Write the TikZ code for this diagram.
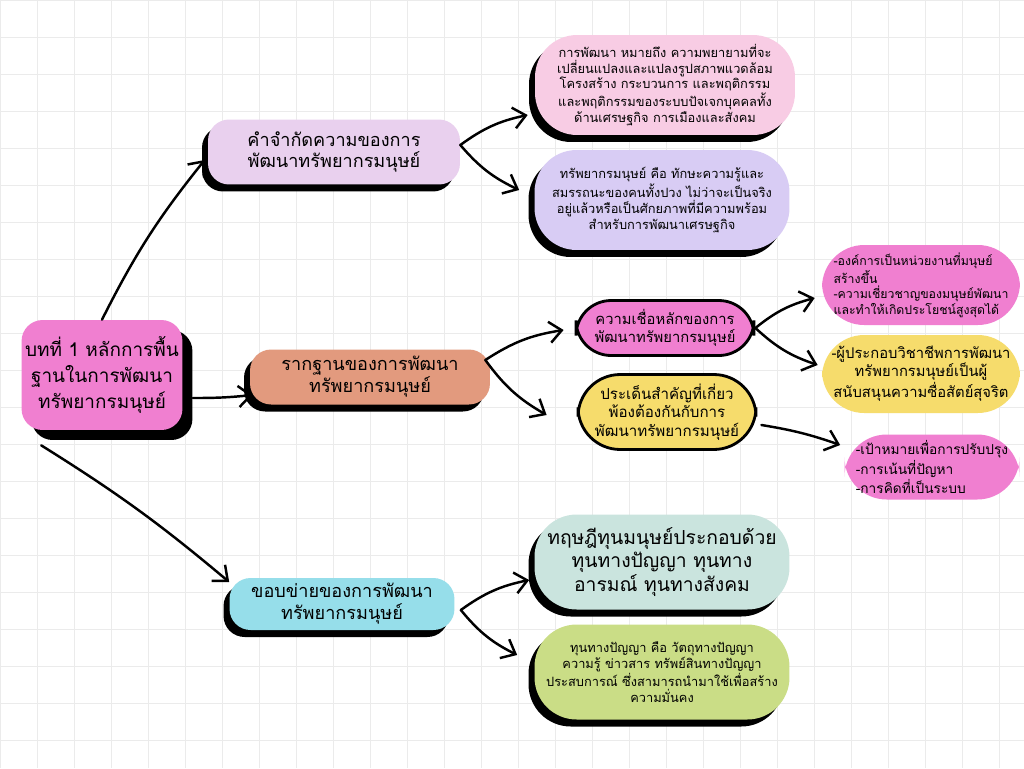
\documentclass[tikz,border=0pt]{standalone}
\usepackage{fontspec}
\newfontfamily\thaifont[Script=Thai]{Loma}
\usetikzlibrary{arrows.meta,shadows}
\definecolor{hotpink}{HTML}{F07FD0}
\definecolor{lilac}{HTML}{E9D0EE}
\definecolor{salmon}{HTML}{E29A7E}
\definecolor{skyblue}{HTML}{96DEEA}
\definecolor{palepink}{HTML}{F8CCE4}
\definecolor{lavender}{HTML}{D8CCF4}
\definecolor{mustard}{HTML}{F6DC6C}
\definecolor{mint}{HTML}{CAE4DE}
\definecolor{lime}{HTML}{CADD86}
\tikzset{
  blob/.style={rounded corners=12pt, inner sep=2pt, align=center, text=black},
  shade/.style={drop shadow={shadow xshift=-0.12cm, shadow yshift=-0.14cm, fill=black, opacity=1}},
  ringed/.style={draw=black, line width=1.6pt},
  big/.style={font=\thaifont\fontsize{10.8}{14.8}\selectfont},
  mid/.style={font=\thaifont\fontsize{10.3}{12.5}\selectfont},
  small/.style={font=\thaifont\fontsize{7.3}{9}\selectfont},
  link/.style={-{Straight Barb[length=7pt,width=12pt,line width=1.4pt]}, line width=1.4pt, line cap=round},
  gridline/.style={draw=black!8, line width=0.4pt}
}
\begin{document}
\begin{tikzpicture}[x=0.02cm, y=-0.02cm]
\useasboundingbox (0,0) rectangle (1024,768);
\fill[white] (0,0) rectangle (1024,768);
\foreach \gx in {0,37,...,1024} \draw[gridline] (\gx,0) -- (\gx,768);
\foreach \gy in {0,37,...,768} \draw[gridline] (0,\gy) -- (1024,\gy);

% main topic
\node[blob, big, fill=hotpink, minimum width=3.1cm, minimum height=2.2cm,
  drop shadow={shadow xshift=0.2cm, shadow yshift=-0.2cm, fill=black, opacity=1}]
  (main) at (102,375) {บทที่ 1 หลักการพื้น\\ฐานในการพัฒนา\\ทรัพยากรมนุษย์};

% branches
\node[blob, mid, fill=lilac, shade, minimum width=5.04cm, minimum height=1.3cm]
  (defn) at (334,152) {คำจำกัดความของการ\\พัฒนาทรัพยากรมนุษย์};
\node[blob, mid, fill=salmon, shade, minimum width=4.8cm, minimum height=1.1cm]
  (found) at (370,377) {รากฐานของการพัฒนา\\ทรัพยากรมนุษย์};
\node[blob, mid, fill=skyblue, shade, minimum width=4.5cm, minimum height=1.04cm]
  (scope) at (342,604) {ขอบข่ายของการพัฒนา\\ทรัพยากรมนุษย์};

% definitions
\node[blob, small, fill=palepink, shade, rounded corners=24pt, minimum width=5.2cm, minimum height=2cm]
  (hrd) at (665,85) {การพัฒนา หมายถึง ความพยายามที่จะ\\เปลี่ยนแปลงและแปลงรูปสภาพแวดล้อม\\โครงสร้าง กระบวนการ และพฤติกรรม\\และพฤติกรรมของระบบปัจเจกบุคคลทั้ง\\ด้านเศรษฐกิจ การเมืองและสังคม};
\node[blob, small, fill=lavender, shade, rounded corners=24pt, minimum width=5.1cm, minimum height=2cm]
  (hr) at (662,200) {ทรัพยากรมนุษย์ คือ ทักษะความรู้และ\\สมรรถนะของคนทั้งปวง ไม่ว่าจะเป็นจริง\\อยู่แล้วหรือเป็นศักยภาพที่มีความพร้อม\\สำหรับการพัฒนาเศรษฐกิจ};

% foundations
\node[blob, font=\thaifont\fontsize{8.4}{10.3}\selectfont, fill=hotpink, ringed, rounded corners=20pt, minimum width=3.56cm, minimum height=1.1cm]
  (belief) at (665,328) {ความเชื่อหลักของการ\\พัฒนาทรัพยากรมนุษย์};
\node[blob, font=\thaifont\fontsize{8.6}{10.5}\selectfont, fill=mustard, ringed, rounded corners=24pt, minimum width=3.56cm, minimum height=1.5cm]
  (issue) at (667,412) {ประเด็นสำคัญที่เกี่ยว\\พ้องต้องกันกับการ\\พัฒนาทรัพยากรมนุษย์};
\node[blob, font=\thaifont\fontsize{7}{8.8}\selectfont, align=left, fill=hotpink, rounded corners=24pt, minimum width=3.96cm, minimum height=1.6cm]
  (org) at (921,285) {-องค์การเป็นหน่วยงานที่มนุษย์\\สร้างขึ้น\\-ความเชี่ยวชาญของมนุษย์พัฒนา\\และทำให้เกิดประโยชน์สูงสุดได้};
\node[blob, font=\thaifont\fontsize{8.4}{10.3}\selectfont, fill=mustard, rounded corners=24pt, minimum width=3.96cm, minimum height=1.56cm]
  (ethic) at (921,374) {-ผู้ประกอบวิชาชีพการพัฒนา\\ทรัพยากรมนุษย์เป็นผู้\\สนับสนุนความซื่อสัตย์สุจริต};
\node[blob, font=\thaifont\fontsize{7.8}{9.6}\selectfont, align=left, fill=hotpink, rounded corners=24pt, minimum width=3.5cm, minimum height=1.3cm]
  (goal) at (932,467) {-เป้าหมายเพื่อการปรับปรุง\\-การเน้นที่ปัญหา\\-การคิดที่เป็นระบบ};

% scope
\node[blob, font=\thaifont\fontsize{11}{13.5}\selectfont, fill=mint, shade, rounded corners=24pt, minimum width=5.1cm, minimum height=1.9cm]
  (theory) at (662,562) {ทฤษฎีทุนมนุษย์ประกอบด้วย\\ทุนทางปัญญา ทุนทาง\\อารมณ์ ทุนทางสังคม};
\node[blob, small, fill=lime, shade, rounded corners=24pt, minimum width=5.1cm, minimum height=1.9cm]
  (capital) at (662,672) {ทุนทางปัญญา คือ วัตถุทางปัญญา\\ความรู้ ข่าวสาร ทรัพย์สินทางปัญญา\\ประสบการณ์ ซึ่งสามารถนำมาใช้เพื่อสร้าง\\ความมั่นคง};

% arrows
\draw[link] (main.north) to[bend left=6] ([shift={(-3,8)}]defn.west);
\draw[link] ([shift={(10,23)}]main.east) to[bend right=3] ([shift={(3,18)}]found.west);
\draw[link] ([shift={(20,15)}]main.south west) to[bend left=4] ([shift={(0,-22)}]scope.west);
\draw[link] ([shift={(0,-7)}]defn.east) to[bend left=12] ([shift={(-7,30)}]hrd.west);
\draw[link] ([shift={(0,-7)}]defn.east) to[bend right=12] ([shift={(-15,-10)}]hr.west);
\draw[link] ([shift={(-5,-17)}]found.east) to[bend left=12] ([shift={(-11,2)}]belief.west);
\draw[link] ([shift={(-5,-17)}]found.east) to[bend right=12] ([shift={(-30,3)}]issue.west);
\draw[link] (belief.east) to[bend left=12] ([shift={(-7,13)}]org.west);
\draw[link] (belief.east) to[bend right=12] ([shift={(-4,-9)}]ethic.west);
\draw[link] ([shift={(4,13)}]issue.east) to[bend left=5] ([shift={(-4,-22)}]goal.west);
\draw[link] ([shift={(6,6)}]scope.east) to[bend left=12] ([shift={(-5,18)}]theory.west);
\draw[link] ([shift={(6,6)}]scope.east) to[bend right=12] ([shift={(-17,-17)}]capital.west);
\end{tikzpicture}
\end{document}
